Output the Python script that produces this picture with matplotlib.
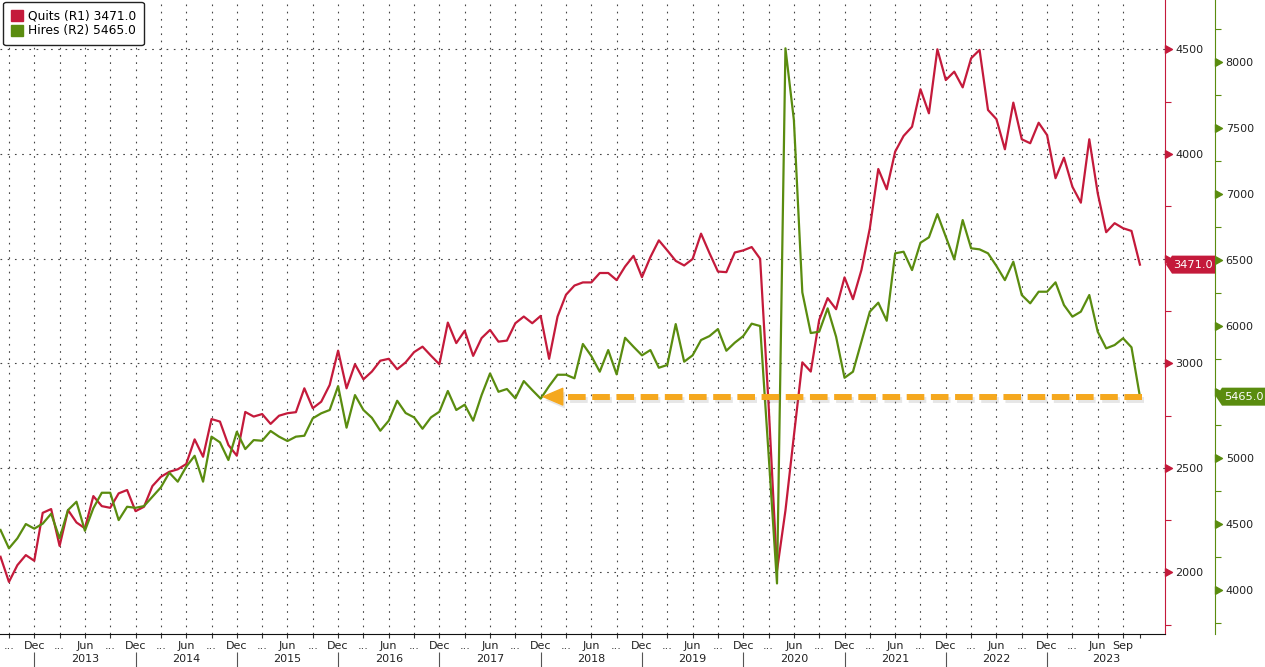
import numpy as np
import pandas as pd
import matplotlib.pyplot as plt
from matplotlib.path import Path
from matplotlib.patches import Patch, Polygon
from matplotlib.ticker import MultipleLocator
import matplotlib.patheffects as pe

# monthly JOLTS, Aug 2012 .. Nov 2023 (thousands)
months = pd.date_range('2012-08-31', periods=136, freq='ME')

quits = [
    2075, 1955, 2035, 2083, 2056, 2285, 2303, 2127, 2298, 2239,
    2211, 2365, 2317, 2309, 2378, 2394, 2293, 2314, 2413, 2457,
    2481, 2493, 2518, 2636, 2553, 2733, 2721, 2609, 2558, 2767,
    2745, 2757, 2710, 2749, 2761, 2766, 2880, 2785, 2816, 2896,
    3060, 2880, 2995, 2923, 2960, 3012, 3021, 2971, 3004, 3053,
    3079, 3036, 2995, 3194, 3096, 3155, 3035, 3120, 3159, 3103,
    3108, 3191, 3223, 3191, 3226, 3021, 3223, 3327, 3371, 3386,
    3386, 3431, 3431, 3397, 3462, 3513, 3411, 3507, 3587, 3539,
    3489, 3467, 3498, 3619, 3526, 3438, 3435, 3529, 3539, 3555,
    3499, 2804, 2010, 2296, 2653, 3004, 2960, 3207, 3311, 3258,
    3410, 3306, 3445, 3645, 3928, 3831, 4011, 4086, 4130, 4309,
    4194, 4500, 4353, 4393, 4318, 4457, 4497, 4210, 4166, 4022,
    4245, 4070, 4051, 4149, 4090, 3884, 3982, 3843, 3767, 4070,
    3812, 3626, 3669, 3645, 3632, 3471,
]

hires = [
    4455, 4316, 4392, 4500, 4465, 4503, 4578, 4392, 4606, 4669,
    4449, 4620, 4737, 4737, 4530, 4631, 4623, 4636, 4707, 4778,
    4889, 4821, 4934, 5017, 4821, 5162, 5119, 4985, 5199, 5068,
    5136, 5131, 5205, 5162, 5129, 5162, 5169, 5301, 5339, 5364,
    5545, 5230, 5477, 5364, 5305, 5207, 5283, 5434, 5341, 5308,
    5222, 5308, 5351, 5508, 5364, 5404, 5283, 5477, 5641, 5502,
    5523, 5452, 5583, 5515, 5450, 5545, 5631, 5631, 5604, 5864,
    5773, 5654, 5818, 5634, 5911, 5843, 5778, 5818, 5684, 5705,
    6015, 5730, 5778, 5894, 5924, 5977, 5813, 5874, 5924, 6018,
    6000, 5032, 4050, 8104, 7561, 6255, 5947, 5957, 6134, 5919,
    5608, 5654, 5881, 6109, 6177, 6040, 6551, 6563, 6424, 6631,
    6672, 6848, 6677, 6505, 6803, 6589, 6581, 6551, 6455, 6348,
    6487, 6235, 6172, 6260, 6260, 6331, 6159, 6071, 6109, 6235,
    5957, 5831, 5856, 5907, 5839, 5465,
]

r1_ticks = [2000, 2500, 3000, 3500, 4000, 4500]
r2_ticks = [4000, 4500, 5000, 5500, 6000, 6500, 7000, 7500, 8000]
arrow_target = 64   # Dec 2017, last time hires were this low

red = '#C41A3B'
green = '#5A8C0F'
orange = '#F5A81E'
grid_c = '#444444'
grid_ls = (0, (1.5, 5))

x = np.arange(len(months))

fig = plt.figure(figsize=(12.65, 6.67), dpi=100)
ax = fig.add_axes([0, 33 / 667, 1165 / 1265, 634 / 667])
ax2 = ax.twinx()

ax.plot(x, quits, color=red, lw=1.6, zorder=3)
ax2.plot(x, hires, color=green, lw=1.6, zorder=3)

# orange dashed arrow back to the previous low
lvl = hires[-1]
shadow = [pe.SimpleLineShadow(offset=(1.5, -2.5), shadow_color='#777777', alpha=0.18),
          pe.Normal()]
ax2.plot([x[-1] + 0.2, arrow_target + 2.9], [lvl, lvl], color=orange, lw=4.3,
         dashes=(2.95, 1.1), solid_capstyle='butt', dash_capstyle='butt', zorder=5,
         path_effects=shadow)
ax2.annotate('', xy=(arrow_target + 0.1, lvl), xytext=(arrow_target + 2.6, lvl),
             arrowprops=dict(arrowstyle='-|>,head_length=0.7,head_width=0.3',
                             mutation_scale=20, color=orange, lw=1,
                             shrinkA=0, shrinkB=0,
                             path_effects=[pe.SimplePatchShadow(offset=(1.5, -2.5),
                                                                shadow_rgbFace='#777777',
                                                                alpha=0.18),
                                           pe.Normal()]),
             zorder=5)

# limits
ax.set_xlim(-0.06, 137.97)
ax.set_ylim(1706, 4735.5)
ax2.set_ylim(3667, 8470)

# x axis: quarterly ticks
q_idx = [i for i, m in enumerate(months) if m.month in (3, 6, 9, 12)]
q_lab = []
for i in q_idx:
    m = months[i]
    if m.month == 12:
        q_lab.append('Dec')
    elif m.month == 6:
        q_lab.append('Jun')
    else:
        q_lab.append('...')
q_lab[-1] = months[q_idx[-1]].strftime('%b')
ax.set_xticks(q_idx, q_lab)
ax.set_xticks([x[-1]], minor=True)
ax.tick_params(axis='x', which='both', length=3, width=0.8, color='#333333',
               pad=2, labelsize=8, labelcolor='#222222')

# year labels and separators
xmax = ax.get_xlim()[1]
dec_idx = [i for i, m in enumerate(months) if m.month == 12]
for k, d in enumerate(dec_idx):
    end = dec_idx[k + 1] if k + 1 < len(dec_idx) else xmax
    end = min(end, xmax)
    ax.text((d + end) / 2, -0.040, str(months[d].year + 1), transform=ax.get_xaxis_transform(),
            ha='center', va='center', fontsize=8, color='#222222')
    ax.vlines(d, -0.028, -0.06, transform=ax.get_xaxis_transform(), color='#555555',
              lw=0.8, clip_on=False)

# grid
ax.grid(axis='x', which='major', color=grid_c, linestyle=grid_ls, lw=0.8)
# labels under the value tags are hidden, as in the source chart
ax.set_yticks(r1_ticks, ['' if t == 3500 else str(t) for t in r1_ticks])
ax.grid(axis='y', which='major', color=grid_c, linestyle=grid_ls, lw=0.8)
ax.set_axisbelow(True)

# R1 axis (quits) on the right
ax.yaxis.tick_right()
ax.yaxis.set_minor_locator(MultipleLocator(250))
ax.tick_params(axis='y', which='major', length=0, pad=7.2, labelsize=8, labelcolor='#222222')
ax.tick_params(axis='y', which='minor', length=4, width=0.8, color=red)
for s in ('top', 'left'):
    ax.spines[s].set_visible(False)
ax.spines['right'].set_color(red)
ax.spines['bottom'].set_color('#111111')

# R2 axis (hires) further right
ax2.set_yticks(r2_ticks, ['' if t == 5500 else str(t) for t in r2_ticks])
ax2.yaxis.set_minor_locator(MultipleLocator(250))
r2_pos = 1215 / 1165
ax2.spines['right'].set_position(('axes', r2_pos))
ax2.spines['right'].set_color(green)
for s in ('top', 'left', 'bottom'):
    ax2.spines[s].set_visible(False)
ax2.tick_params(axis='y', which='major', length=0, pad=7.7, labelsize=8, labelcolor='#222222')
ax2.tick_params(axis='y', which='minor', length=4, width=0.8, color=green)

# triangle tick marks
tri = Path([(0, -0.55), (1, 0), (0, 0.55), (0, -0.55)],
           [Path.MOVETO, Path.LINETO, Path.LINETO, Path.CLOSEPOLY])
ax.plot(np.ones(len(r1_ticks)), r1_ticks, transform=ax.get_yaxis_transform(),
        marker=tri, ms=10, ls='none', color=red, clip_on=False)
ax2.plot(np.full(len(r2_ticks), r2_pos), r2_ticks, transform=ax2.get_yaxis_transform(),
         marker=tri, ms=10, ls='none', color=green, clip_on=False)

# legend
handles = [Patch(color=red), Patch(color=green)]
labels = ['Quits (R1) %.1f' % quits[-1], 'Hires (R2) %.1f' % hires[-1]]
leg = ax2.legend(handles, labels, loc='upper left', bbox_to_anchor=(0.0028, 0.9973),
                 borderaxespad=0, prop={'size': 8.8}, handlelength=1.0, handleheight=1.0,
                 handletextpad=0.35, labelspacing=0.15, borderpad=0.65,
                 fancybox=True, framealpha=1, edgecolor='#222222')
leg.get_frame().set_linewidth(1.0)
leg.set_zorder(10)

# value tags on the axes
W, H = 1265, 667


def tag(axis, value, x_tip, color):
    y_disp = axis.transData.transform((0, value))[1]
    yc = H - y_disp
    h = 9
    pts = [(x_tip, yc), (x_tip + 6, yc - h), (x_tip + 49, yc - h),
           (x_tip + 49, yc + h), (x_tip + 6, yc + h)]
    pts = [(px / W, 1 - py / H) for px, py in pts]
    fig.add_artist(Polygon(pts, closed=True, facecolor=color, edgecolor='none',
                           transform=fig.transFigure, zorder=5))
    fig.text((x_tip + 27.5) / W, 1 - yc / H, '%.1f' % value, color='white',
             ha='center', va='center', fontsize=8.2, zorder=6)


tag(ax, quits[-1], 1166, red)
tag(ax2, hires[-1], 1216, green)

fig.savefig('out.png', dpi=100, facecolor='white')
